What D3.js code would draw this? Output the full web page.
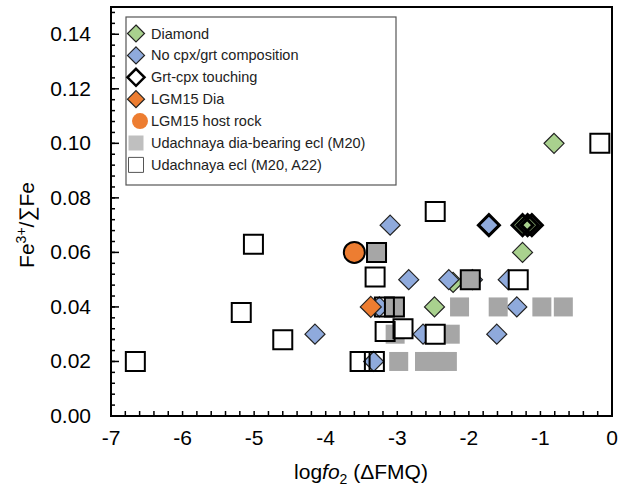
<!DOCTYPE html>
<html>
<head>
<meta charset="utf-8">
<script src="https://cdn.jsdelivr.net/npm/d3@7"></script>
<style>
  body { margin: 0; background: #fff; }
  text { font-family: "Liberation Sans", Arial, sans-serif; fill: #000; }
</style>
</head>
<body>
<div id="chart"></div>
<script>
// data: [logfO2 (ΔFMQ), Fe3+/ΣFe]
const diamond = [[-0.81, 0.100], [-1.25, 0.060], [-2.48, 0.040], [-1.25, 0.070], [-1.15, 0.070], [-2.22, 0.049]];
const noCpxGrt = [[-3.10, 0.070], [-1.72, 0.070], [-2.84, 0.050], [-2.28, 0.050], [-1.95, 0.050],
  [-1.45, 0.050], [-3.25, 0.040], [-1.33, 0.040], [-4.15, 0.030], [-2.64, 0.030], [-1.61, 0.030], [-3.33, 0.020]];
const grtCpx = [[-1.72, 0.070], [-1.25, 0.070], [-1.18, 0.070], [-1.12, 0.070]];
const lgmDia = [[-3.37, 0.040]];
const lgmHost = [[-3.60, 0.060]];
const udDia = [[-3.29, 0.060], [-1.98, 0.050], [-3.03, 0.040], [-2.13, 0.040], [-1.59, 0.040], [-0.98, 0.040],
  [-0.68, 0.040], [-3.03, 0.030], [-2.26, 0.030], [-2.98, 0.020], [-2.62, 0.020], [-2.46, 0.020], [-2.30, 0.020]];
// Udachnaya ecl, two sets of points: M20 (outline only) and A22 (white filled)
const udEclM20 = [[-3.31, 0.051], [-1.98, 0.050], [-3.29, 0.060], [-3.18, 0.040], [-3.04, 0.040],
  [-3.17, 0.031], [-3.52, 0.020], [-3.32, 0.020]];
const udEclA22 = [[-6.66, 0.020], [-5.01, 0.063], [-5.18, 0.038], [-4.60, 0.028], [-2.47, 0.075], [-0.17, 0.100],
  [-1.31, 0.050], [-2.92, 0.032], [-2.47, 0.030]];

const xTicks = [-7, -6, -5, -4, -3, -2, -1, 0];
const yTicks = [0, 0.02, 0.04, 0.06, 0.08, 0.10, 0.12, 0.14];

const W = 624, H = 493;
const svg = d3.select("#chart").append("svg")
  .attr("width", W)
  .attr("height", H);

const pLeft = 111, pRight = 612, pTop = 7, pBottom = 416;

const x = d3.scaleLinear().domain([-7, 0]).range([pLeft, pRight]);
const y = d3.scaleLinear().domain([0, 0.15]).range([pBottom, pTop]);

// minor ticks
const xMinor = d3.range(-7, 0.001, 0.2);
const yMinor = d3.range(0, 0.1501, 0.004);

svg.append("g").selectAll("line")
  .data(xMinor)
  .enter().append("line")
  .attr("x1", d => x(d)).attr("x2", d => x(d))
  .attr("y1", pBottom).attr("y2", pBottom - 5)
  .attr("stroke", "#000").attr("stroke-width", 1.5);

svg.append("g").selectAll("line")
  .data(yMinor)
  .enter().append("line")
  .attr("x1", pLeft).attr("x2", pLeft + 4)
  .attr("y1", d => y(d)).attr("y2", d => y(d))
  .attr("stroke", "#000").attr("stroke-width", 1.5);

svg.append("g").selectAll("line")
  .data(yTicks)
  .enter().append("line")
  .attr("x1", pLeft).attr("x2", pLeft + 8)
  .attr("y1", d => y(d)).attr("y2", d => y(d))
  .attr("stroke", "#000").attr("stroke-width", 1.5);

// plot box
svg.append("rect")
  .attr("x", pLeft).attr("y", pTop)
  .attr("width", pRight - pLeft).attr("height", pBottom - pTop)
  .attr("fill", "none")
  .attr("stroke", "#000")
  .attr("stroke-width", 2);

// tick labels
svg.append("g").selectAll("text")
  .data(xTicks)
  .enter().append("text")
  .attr("x", d => x(d))
  .attr("y", 445)
  .attr("text-anchor", "middle")
  .style("font-size", "21px")
  .text(d => d3.format("d")(d).replace("−", "-"));

svg.append("g").selectAll("text")
  .data(yTicks)
  .enter().append("text")
  .attr("x", 91)
  .attr("y", d => y(d) + 7)
  .attr("text-anchor", "end")
  .style("font-size", "21px")
  .text(d => d3.format(".2f")(d));

// axis titles
const xt = svg.append("text")
  .attr("x", 361)
  .attr("y", 479)
  .attr("text-anchor", "middle")
  .style("font-size", "21px");
xt.append("tspan").text("log");
xt.append("tspan").style("font-style", "italic").text("fo");
xt.append("tspan").attr("dy", 5).style("font-size", "14px").text("2");
xt.append("tspan").attr("dy", -5).text(" (ΔFMQ)");

const yt = svg.append("text")
  .attr("transform", "translate(34,225) rotate(-90)")
  .attr("text-anchor", "middle")
  .style("font-size", "21px");
yt.append("tspan").text("Fe");
yt.append("tspan").attr("dy", -8).style("font-size", "14px").text("3+");
yt.append("tspan").attr("dy", 8).text("/∑Fe");

// marker shapes
const diamondPath = r => `M0,${-r}L${r},0L0,${r}L${-r},0Z`;
const squarePath = s => `M${-s / 2},${-s / 2}h${s}v${s}h${-s}Z`;

const plot = svg.append("g");

function drawSeries(data, path, fill, stroke, sw) {
  plot.append("g").selectAll("path")
    .data(data)
    .enter().append("path")
    .attr("transform", d => `translate(${x(d[0])},${y(d[1])})`)
    .attr("d", path)
    .attr("fill", fill)
    .attr("stroke", stroke)
    .attr("stroke-width", sw)
    .attr("stroke-linejoin", "miter");
}

drawSeries(diamond, diamondPath(10), "#a9d18e", "#222", 1.2);
drawSeries(noCpxGrt, diamondPath(10), "#8faadc", "#222", 1.2);
drawSeries(grtCpx, diamondPath(10.5), "none", "#000", 3);
drawSeries(udDia, squarePath(19), "#a6a6a6", "none", 0);
drawSeries(udEclA22, squarePath(19), "#fff", "#000", 2);
drawSeries(udEclM20, squarePath(19), "none", "#000", 2);
drawSeries(lgmDia, diamondPath(10.5), "#ed7d31", "#222", 1.2);

plot.append("g").selectAll("circle")
  .data(lgmHost)
  .enter().append("circle")
  .attr("cx", d => x(d[0]))
  .attr("cy", d => y(d[1]))
  .attr("r", 10.5)
  .attr("fill", "#ed7d31")
  .attr("stroke", "#000")
  .attr("stroke-width", 2);

// legend
const legendItems = [
  {label: "Diamond", kind: "diamond", fill: "#a9d18e", stroke: "#222", sw: 1.2},
  {label: "No cpx/grt composition", kind: "diamond", fill: "#8faadc", stroke: "#222", sw: 1.2},
  {label: "Grt-cpx touching", kind: "diamond", fill: "none", stroke: "#000", sw: 2.5},
  {label: "LGM15 Dia", kind: "diamond", fill: "#ed7d31", stroke: "#222", sw: 1.2},
  {label: "LGM15 host rock", kind: "circle", fill: "#ed7d31", stroke: "none", sw: 0},
  {label: "Udachnaya dia-bearing ecl (M20)", kind: "square", fill: "#bfbfbf", stroke: "none", sw: 0},
  {label: "Udachnaya ecl (M20, A22)", kind: "square", fill: "#fff", stroke: "#555", sw: 1}
];

svg.append("rect")
  .attr("x", 126).attr("y", 17)
  .attr("width", 270).attr("height", 168)
  .attr("fill", "#fff")
  .attr("stroke", "#555")
  .attr("stroke-width", 1.2);

const lg = svg.append("g").selectAll("g")
  .data(legendItems)
  .enter().append("g")
  .attr("transform", (d, i) => `translate(136,${33.5 + i * 21.9})`);

lg.append("path")
  .attr("d", d => d.kind === "diamond" ? diamondPath(8.5) : d.kind === "square" ? squarePath(15) : "")
  .attr("fill", d => d.fill)
  .attr("stroke", d => d.stroke)
  .attr("stroke-width", d => d.sw);

lg.filter(d => d.kind === "circle").append("circle")
  .attr("cx", 4).attr("r", 8)
  .attr("fill", d => d.fill);

lg.append("text")
  .attr("x", 15)
  .attr("y", 5)
  .style("font-size", "14.5px")
  .style("fill", "#222")
  .text(d => d.label);
</script>
</body>
</html>
